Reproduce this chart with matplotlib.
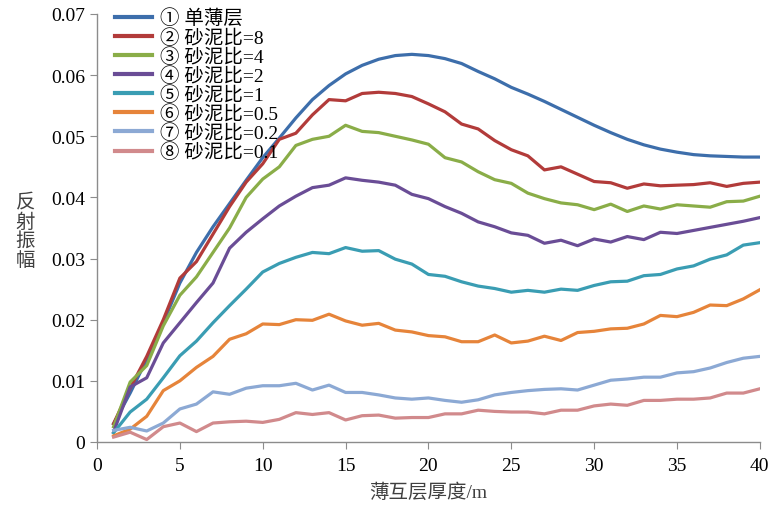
import matplotlib
matplotlib.use("Agg")
import matplotlib.pyplot as plt
import numpy as np

plt.rcParams['font.family'] = ['Liberation Serif', 'Noto Sans CJK SC', 'DejaVu Sans']

thickness = list(range(1, 41))

single = [0.003, 0.008, 0.0135, 0.0195, 0.026, 0.031, 0.0352, 0.039, 0.0428, 0.0465,
          0.0497, 0.0530, 0.0560, 0.0583, 0.0602, 0.0616, 0.0626, 0.0632, 0.0634, 0.0632,
          0.0627, 0.0619, 0.0606, 0.0594, 0.0580, 0.0569, 0.0557, 0.0544, 0.0531, 0.0518,
          0.0506, 0.0495, 0.0486, 0.0479, 0.0474, 0.0470, 0.0468, 0.0467, 0.0466, 0.0466]
ratio8 = [0.003, 0.0088, 0.014, 0.020, 0.0268, 0.0295, 0.034, 0.0385, 0.0425, 0.0455,
          0.0495, 0.0505, 0.0535, 0.0560, 0.0558, 0.0570, 0.0572, 0.0570, 0.0565, 0.0553,
          0.0540, 0.0520, 0.0512, 0.0493, 0.0478, 0.0468, 0.0445, 0.0450, 0.0438, 0.0426,
          0.0424, 0.0415, 0.0422, 0.0419, 0.0420, 0.0421, 0.0424, 0.0418, 0.0423, 0.0425]
ratio4 = [0.0025, 0.0098, 0.0125, 0.019, 0.024, 0.027, 0.031, 0.035, 0.040, 0.043,
          0.045, 0.0485, 0.0495, 0.0500, 0.0518, 0.0508, 0.0506, 0.0500, 0.0494, 0.0487,
          0.0465, 0.0458, 0.0442, 0.0429, 0.0423, 0.0407, 0.0398, 0.0391, 0.0388, 0.0380,
          0.0389, 0.0377, 0.0386, 0.0381, 0.0388, 0.0386, 0.0384, 0.0393, 0.0394, 0.0402]
ratio2 = [0.0016, 0.009, 0.0105, 0.0162, 0.0195, 0.0228, 0.026, 0.0317, 0.0343, 0.0365,
          0.0386, 0.0402, 0.0416, 0.0420, 0.0432, 0.0428, 0.0425, 0.0420, 0.0405, 0.0398,
          0.0385, 0.0374, 0.0360, 0.0352, 0.0342, 0.0338, 0.0325, 0.0330, 0.0321, 0.0332,
          0.0327, 0.0336, 0.0331, 0.0343, 0.0341, 0.0346, 0.0351, 0.0356, 0.0361, 0.0367]
ratio1 = [0.0015, 0.0049, 0.007, 0.0105, 0.0141, 0.0165, 0.0195, 0.0223, 0.025, 0.0278,
          0.0292, 0.0302, 0.0310, 0.0308, 0.0318, 0.0312, 0.0313, 0.0299, 0.0291, 0.0274,
          0.0271, 0.0262, 0.0255, 0.0251, 0.0245, 0.0248, 0.0245, 0.0250, 0.0248, 0.0256,
          0.0262, 0.0263, 0.0272, 0.0274, 0.0283, 0.0288, 0.0299, 0.0306, 0.0322, 0.0326]
ratio05 = [0.001, 0.0021, 0.0042, 0.0084, 0.0100, 0.0122, 0.0140, 0.0168, 0.0177, 0.0193,
           0.0192, 0.0200, 0.0199, 0.0209, 0.0198, 0.0191, 0.0194, 0.0183, 0.0180, 0.0174,
           0.0172, 0.0164, 0.0164, 0.0175, 0.0162, 0.0165, 0.0173, 0.0166, 0.0179, 0.0181,
           0.0185, 0.0186, 0.0193, 0.0207, 0.0205, 0.0212, 0.0224, 0.0223, 0.0234, 0.0249]
ratio02 = [0.0019, 0.0024, 0.0018, 0.0031, 0.0054, 0.0062, 0.0082, 0.0078, 0.0088, 0.0092,
           0.0092, 0.0096, 0.0085, 0.0093, 0.0081, 0.0081, 0.0077, 0.0072, 0.0070, 0.0072,
           0.0068, 0.0065, 0.0069, 0.0077, 0.0081, 0.0084, 0.0086, 0.0087, 0.0085, 0.0093,
           0.0101, 0.0103, 0.0106, 0.0106, 0.0113, 0.0115, 0.0121, 0.0130, 0.0137, 0.0140]
ratio01 = [0.0008, 0.0016, 0.0004, 0.0025, 0.0031, 0.0017, 0.0031, 0.0033, 0.0034, 0.0032,
           0.0037, 0.0048, 0.0045, 0.0048, 0.0036, 0.0043, 0.0044, 0.0039, 0.0040, 0.0040,
           0.0046, 0.0046, 0.0052, 0.0050, 0.0049, 0.0049, 0.0046, 0.0052, 0.0052, 0.0059,
           0.0062, 0.0060, 0.0068, 0.0068, 0.0070, 0.0070, 0.0072, 0.0080, 0.0080, 0.0087]

labels = ['① 单薄层', '② 砂泥比=8', '③ 砂泥比=4', '④ 砂泥比=2',
          '⑤ 砂泥比=1', '⑥ 砂泥比=0.5', '⑦ 砂泥比=0.2', '⑧ 砂泥比=0.1']
series = [single, ratio8, ratio4, ratio2, ratio1, ratio05, ratio02, ratio01]
colors = ['#3d6eab', '#b23b3a', '#8aad48', '#6a4d96', '#3a9db3',
          '#e6843a', '#8ca9d4', '#d18a8c']

fig = plt.figure(figsize=(7.73, 5.10), dpi=100)
ax = fig.add_axes([0.1255, 0.1314, 0.8575, 0.8392])

for ys, lab, c in zip(series, labels, colors):
    ax.plot(thickness, ys, color=c, lw=2.3, label=lab, solid_joinstyle='round')

ax.set_xlim(0, 40)
ax.set_ylim(0, 0.07)
ax.set_xticks(range(0, 41, 5))
ax.set_yticks([0, 0.01, 0.02, 0.03, 0.04, 0.05, 0.06, 0.07])
ax.set_yticklabels(['0', '0.01', '0.02', '0.03', '0.04', '0.05', '0.06', '0.07'])
for s in ['top', 'right']:
    ax.spines[s].set_visible(False)
for s in ['left', 'bottom']:
    ax.spines[s].set_color('#8c8c8c')
    ax.spines[s].set_linewidth(1.0)
ax.tick_params(axis='both', colors='#8c8c8c', labelcolor='black', length=5,
               labelsize=14, direction='out')
ax.tick_params(axis='x', pad=6)

ax.set_xlabel('薄互层厚度/m', fontsize=14, color='#404040', labelpad=6)
fig.text(0.033, 0.545, '反\n射\n振\n幅', fontsize=14, color='#404040',
         ha='center', va='center', linespacing=1.1)

leg = ax.legend(loc='upper left', bbox_to_anchor=(0.01, 1.04), frameon=False,
                fontsize=14, handlelength=1.9, handletextpad=0.4,
                labelspacing=0.02, borderaxespad=0.2)
for line in leg.get_lines():
    line.set_linewidth(3.0)

fig.savefig('out.png', dpi=100)
